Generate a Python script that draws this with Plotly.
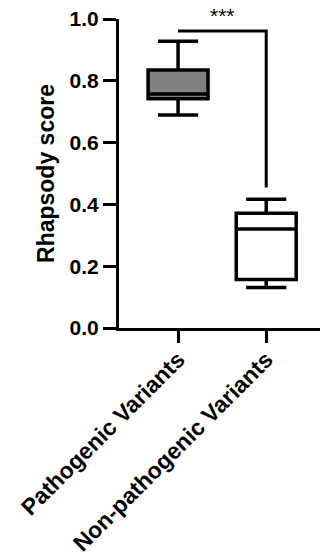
import plotly.graph_objects as go

categories = ["Pathogenic Variants", "Non-pathogenic Variants"]
lower_whisker = [0.689, 0.131]
q1 = [0.742, 0.157]
median = [0.757, 0.320]
q3 = [0.835, 0.371]
upper_whisker = [0.928, 0.417]
fill_colors = ["#808080", "#ffffff"]

y_ticks = [0.0, 0.2, 0.4, 0.6, 0.8, 1.0]
bracket_y = 0.961
bracket_end_y = 0.455
sig_label = "***"

FONT = "Arial, Liberation Sans, sans-serif"

fig = go.Figure()
for i, cat in enumerate(categories):
    fig.add_trace(go.Box(
        x=[cat],
        q1=[q1[i]], median=[median[i]], q3=[q3[i]],
        lowerfence=[lower_whisker[i]], upperfence=[upper_whisker[i]],
        fillcolor=fill_colors[i],
        line=dict(color="black", width=3.5),
        width=0.68,
        whiskerwidth=0.67,
        boxpoints=False,
        showlegend=False,
        hoverinfo="skip",
    ))

fig.add_shape(
    type="path",
    path=f"M 0,{bracket_y} L 1,{bracket_y} L 1,{bracket_end_y}",
    xref="x", yref="y",
    line=dict(color="black", width=3),
)
fig.add_annotation(
    x=0.5, y=bracket_y, xref="x", yref="y",
    text=sig_label, showarrow=False,
    yanchor="bottom", yshift=2,
    font=dict(family=FONT, size=21, color="black"),
)

fig.update_layout(
    width=320, height=559,
    margin=dict(l=119, r=0, t=19, b=231, autoexpand=False),
    paper_bgcolor="white", plot_bgcolor="white",
    font=dict(family=FONT, color="black"),
)
fig.update_xaxes(
    type="category",
    range=[-0.67, 1.61],
    automargin=False,
    showline=True, linecolor="black", linewidth=3,
    ticks="outside", ticklen=12, tickwidth=3, tickcolor="black",
    tickangle=-45,
    ticklabelstandoff=-6,
    tickfont=dict(family=FONT, size=23, color="black", weight="bold"),
    showgrid=False, zeroline=False,
)
fig.update_yaxes(
    range=[0, 1.0],
    automargin=False,
    tickvals=y_ticks,
    ticktext=[f"{v:.1f}" for v in y_ticks],
    showline=True, linecolor="black", linewidth=3,
    ticks="outside", ticklen=13, tickwidth=3, tickcolor="black",
    tickfont=dict(family=FONT, size=21, color="black", weight="bold"),
    title=dict(text="Rhapsody score", standoff=9,
               font=dict(family=FONT, size=23, color="black", weight="bold")),
    showgrid=False, zeroline=False,
)

fig.write_html("out.html", config={"displayModeBar": False},
               post_script="document.body.style.margin='0';")
